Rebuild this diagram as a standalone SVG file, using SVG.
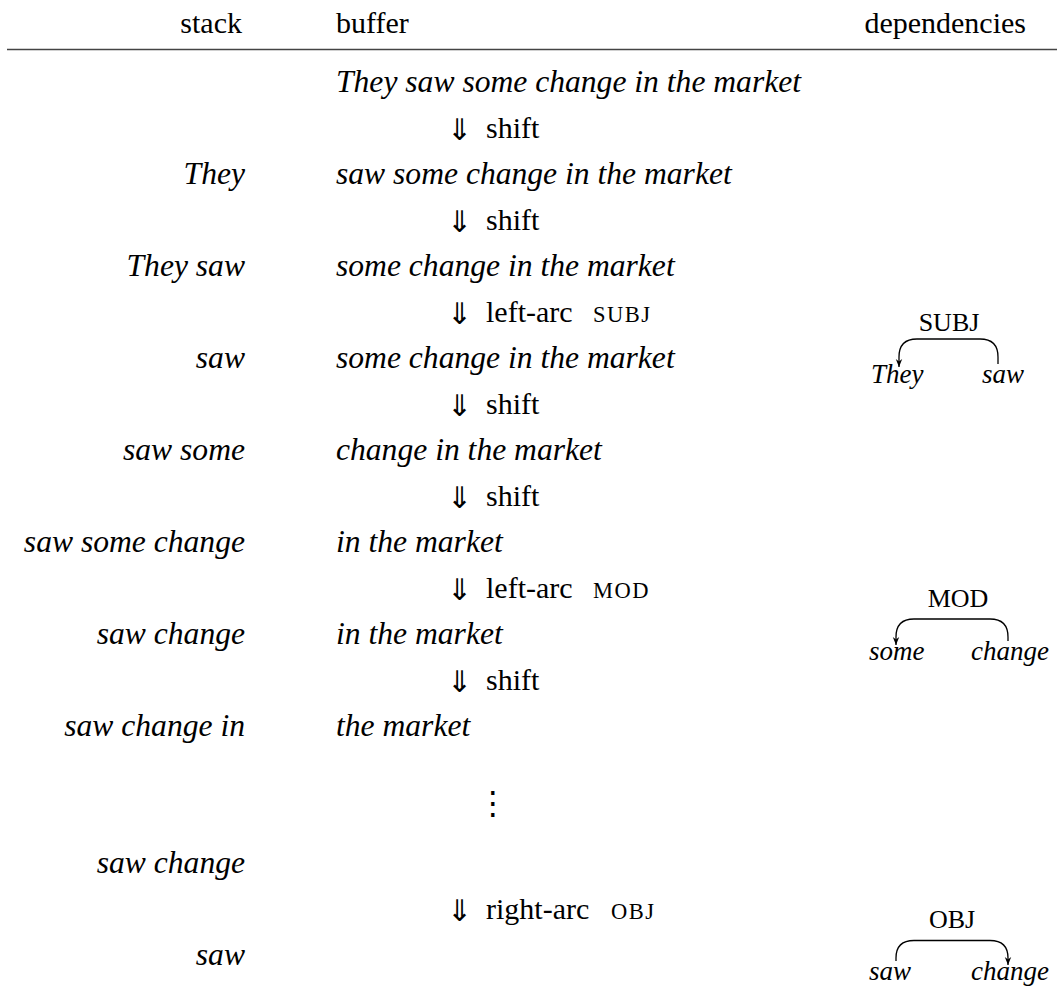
<svg xmlns="http://www.w3.org/2000/svg" width="1057" height="988" viewBox="0 0 1057 988">
<style>
.r{font-family:"Liberation Serif","Times New Roman",serif;font-size:30px;fill:#000}
.i{font-family:"Liberation Serif","Times New Roman",serif;font-size:31.6px;font-style:italic;fill:#000}
.st{text-anchor:end}
.sc{font-family:"Liberation Serif","Times New Roman",serif;font-size:22.5px;letter-spacing:1.5px;fill:#000}
.ar{font-family:"DejaVu Sans",sans-serif;font-weight:200;font-size:30px;fill:#000}
.dots{font-family:"DejaVu Serif","DejaVu Sans",serif;font-size:32px;fill:#000;text-anchor:middle}
.dl{font-family:"Liberation Serif","Times New Roman",serif;font-size:26px;fill:#000;text-anchor:middle}
.dw{font-family:"Liberation Serif","Times New Roman",serif;font-size:27px;font-style:italic;fill:#000}
.arc{fill:none;stroke:#000;stroke-width:1.3}
</style>
<defs>
<marker id="ah" viewBox="0 0 10 10" refX="10" refY="5" markerWidth="8" markerHeight="8" markerUnits="userSpaceOnUse" orient="auto">
<path d="M0,1 L10,5 L0,9 L3,5 Z" fill="#000"/>
</marker>
</defs>
<g id="header">
<text class="r st" x="242" y="33">stack</text>
<text class="r" x="336" y="33">buffer</text>
<text class="r st" x="1026" y="33">dependencies</text>
<line x1="7" y1="49.5" x2="1057" y2="49.5" stroke="#444" stroke-width="1.6"/>
</g>
<g id="stack">
<text class="i st" x="245" y="184">They</text>
<text class="i st" x="245" y="276">They saw</text>
<text class="i st" x="245" y="368">saw</text>
<text class="i st" x="245" y="460">saw some</text>
<text class="i st" x="245" y="552">saw some change</text>
<text class="i st" x="245" y="644">saw change</text>
<text class="i st" x="245" y="736">saw change in</text>
<text class="i st" x="245" y="873">saw change</text>
<text class="i st" x="245" y="965">saw</text>
</g>
<g id="buffer">
<text class="i" x="336" y="92">They saw some change in the market</text>
<text class="i" x="336" y="184">saw some change in the market</text>
<text class="i" x="336" y="276">some change in the market</text>
<text class="i" x="336" y="368">some change in the market</text>
<text class="i" x="336" y="460">change in the market</text>
<text class="i" x="336" y="552">in the market</text>
<text class="i" x="336" y="644">in the market</text>
<text class="i" x="336" y="736">the market</text>
<text class="dots" x="493" y="814">⋮</text>
</g>
<g id="transitions">
<g id="t1"><text class="ar" x="447" y="140">⇓</text><text class="r" x="486" y="138">shift</text></g>
<g id="t2"><text class="ar" x="447" y="232">⇓</text><text class="r" x="486" y="230">shift</text></g>
<g id="t3"><text class="ar" x="447" y="324">⇓</text><text class="r" x="486" y="322">left-arc</text><text class="sc" x="593" y="322">SUBJ</text></g>
<g id="t4"><text class="ar" x="447" y="416">⇓</text><text class="r" x="486" y="414">shift</text></g>
<g id="t5"><text class="ar" x="447" y="508">⇓</text><text class="r" x="486" y="506">shift</text></g>
<g id="t6"><text class="ar" x="447" y="600">⇓</text><text class="r" x="486" y="598">left-arc</text><text class="sc" x="593" y="598">MOD</text></g>
<g id="t7"><text class="ar" x="447" y="692">⇓</text><text class="r" x="486" y="690">shift</text></g>
<g id="t8"><text class="ar" x="447" y="921">⇓</text><text class="r" x="486" y="919">right-arc</text><text class="sc" x="611" y="919">OBJ</text></g>
</g>
<g id="dep-subj">
<text class="dl" x="949" y="331">SUBJ</text>
<text class="dw" x="871" y="383">They</text>
<text class="dw" x="982" y="383">saw</text>
</g>
<g id="dep-mod">
<text class="dl" x="958" y="607">MOD</text>
<text class="dw" x="869" y="660">some</text>
<text class="dw" x="971" y="660">change</text>
</g>
<g id="dep-obj">
<text class="dl" x="952" y="928">OBJ</text>
<text class="dw" x="869" y="980">saw</text>
<text class="dw" x="971" y="980">change</text>
</g>
<g id="connectors">
<path class="arc" d="M998,364 V357 Q998,339 980,339 H917 Q899,339 899,357 V367" marker-end="url(#ah)"/>
<path class="arc" d="M1008,641 V637 Q1008,619 990,619 H914 Q896,619 896,637 V645" marker-end="url(#ah)"/>
<path class="arc" d="M896,961 V958 Q896,940.5 914,940.5 H990 Q1008,940.5 1008,958 V965" marker-end="url(#ah)"/>
</g>
</svg>
